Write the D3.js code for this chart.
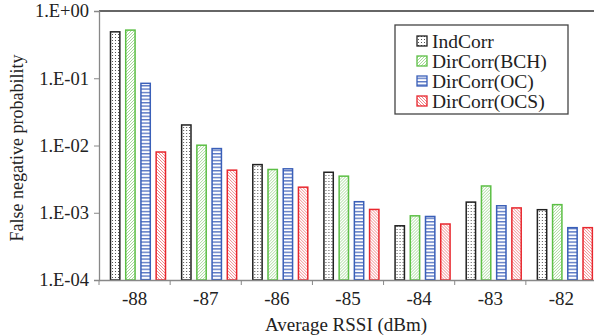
<!DOCTYPE html>
<html>
<head>
<meta charset="utf-8">
<script src="https://cdn.jsdelivr.net/npm/d3@7"></script>
<style>
  body { margin: 0; background: white; }
  text { font-family: "Liberation Serif", "Times New Roman", serif; fill: #222; }
</style>
</head>
<body>
<svg id="chart"></svg>
<script>
// categories along the x axis
const rssi = ["-88", "-87", "-86", "-85", "-84", "-83", "-82"];
const seriesNames = ["IndCorr", "DirCorr(BCH)", "DirCorr(OC)", "DirCorr(OCS)"];
// false negative probability per series
const indCorr = [0.49, 0.0202, 0.0052, 0.0040, 0.00064, 0.00144, 0.00111];
const dirCorrBCH = [0.52, 0.0101, 0.0044, 0.0035, 0.00090, 0.0025, 0.00132];
const dirCorrOC = [0.084, 0.0090, 0.0045, 0.00146, 0.00088, 0.00127, 0.00060];
const dirCorrOCS = [0.0080, 0.0043, 0.0024, 0.00112, 0.00068, 0.00118, 0.00060];
const yTicks = [1, 0.1, 0.01, 0.001, 0.0001];
const yTickLabels = ["1.E+00", "1.E-01", "1.E-02", "1.E-03", "1.E-04"];

const seriesValues = [indCorr, dirCorrBCH, dirCorrOC, dirCorrOCS];
const colors = ["#222222", "#5cbf45", "#3a5fb8", "#e8272e"];

let width = 594;
let height = 336;
let margin = {left: 99, right: -3, top: 11, bottom: 56};

let svg = d3.select("#chart")
    .attr("width", width)
    .attr("height", height);

// fill patterns for each series
let defs = svg.append("defs");

let pDot = defs.append("pattern").attr("id", "p0")
    .attr("patternUnits", "userSpaceOnUse").attr("width", 3).attr("height", 3);
pDot.append("rect").attr("width", 3).attr("height", 3).attr("fill", "white");
pDot.append("rect").attr("x", 1).attr("y", 1).attr("width", 1).attr("height", 1).attr("fill", "#555");

let pGreen = defs.append("pattern").attr("id", "p1")
    .attr("patternUnits", "userSpaceOnUse").attr("width", 3).attr("height", 3);
pGreen.append("rect").attr("width", 3).attr("height", 3).attr("fill", "white");
pGreen.append("path").attr("d", "M-1,1 L1,-1 M0,3 L3,0 M2,4 L4,2")
    .attr("stroke", "#9fd690").attr("stroke-width", 0.9);

let pBlue = defs.append("pattern").attr("id", "p2")
    .attr("patternUnits", "userSpaceOnUse").attr("width", 4).attr("height", 3.4);
pBlue.append("rect").attr("width", 4).attr("height", 3.4).attr("fill", "white");
pBlue.append("rect").attr("y", 0).attr("width", 4).attr("height", 1.4).attr("fill", "#5a78c4");

let pRed = defs.append("pattern").attr("id", "p3")
    .attr("patternUnits", "userSpaceOnUse").attr("width", 3).attr("height", 3);
pRed.append("rect").attr("width", 3).attr("height", 3).attr("fill", "white");
pRed.append("path").attr("d", "M-1,2 L1,4 M0,0 L3,3 M2,-1 L4,1")
    .attr("stroke", "#ef7b7f").attr("stroke-width", 0.9);

let x = d3.scaleBand()
    .domain(rssi)
    .range([margin.left, width - margin.right]);

let xInner = d3.scaleBand()
    .domain(seriesNames)
    .range([11, 11 + 56])
    .paddingInner(0.32)
    .paddingOuter(0);

let y = d3.scaleLog()
    .domain([1e-4, 1])
    .range([height - margin.bottom, margin.top]);

// top border line
svg.append("line")
    .attr("x1", margin.left).attr("x2", width)
    .attr("y1", margin.top).attr("y2", margin.top)
    .attr("stroke", "#333").attr("stroke-width", 1.3);

// bars
let groups = svg.selectAll("g.cat")
    .data(rssi)
    .enter()
    .append("g")
    .attr("class", "cat")
    .attr("transform", d => "translate(" + x(d) + ",0)");

groups.selectAll("rect")
    .data((d, i) => seriesNames.map((s, j) => ({s: s, j: j, v: seriesValues[j][i]})))
    .enter()
    .append("rect")
    .attr("x", d => xInner(d.s) + 0.5)
    .attr("y", d => y(d.v))
    .attr("width", xInner.bandwidth() - 1)
    .attr("height", d => y(1e-4) - y(d.v))
    .attr("fill", d => "url(#p" + d.j + ")")
    .attr("stroke", d => colors[d.j])
    .attr("stroke-width", 1.5);

// y axis
let yAxis = d3.axisLeft(y)
    .tickValues(yTicks)
    .tickFormat((d, i) => yTickLabels[i])
    .tickSize(5)
    .tickPadding(5);

let gy = svg.append("g")
    .attr("transform", "translate(" + margin.left + ",0)")
    .call(yAxis);
gy.select(".domain").attr("stroke", "#888").attr("stroke-width", 1.3);
gy.selectAll(".tick line").attr("stroke", "#888");
gy.selectAll(".tick text")
    .style("font-size", "18.5px")
    .style("font-family", "Liberation Serif, serif")
    .attr("fill", "#222");

// x axis
let xAxis = d3.axisBottom(x).tickSize(0).tickPadding(12);
let gx = svg.append("g")
    .attr("transform", "translate(0," + (height - margin.bottom) + ")")
    .call(xAxis);
gx.select(".domain").attr("stroke", "#888").attr("stroke-width", 1.3);
gx.selectAll(".tick text")
    .style("font-size", "19px")
    .style("font-family", "Liberation Serif, serif")
    .attr("fill", "#222");

// boundary ticks between categories
gx.selectAll("line.bound")
    .data(rssi)
    .enter()
    .append("line")
    .attr("class", "bound")
    .attr("x1", d => x(d)).attr("x2", d => x(d))
    .attr("y1", 0).attr("y2", 5)
    .attr("stroke", "#888");

// axis titles
svg.append("text")
    .attr("x", 346)
    .attr("y", 331)
    .attr("text-anchor", "middle")
    .style("font-size", "19px")
    .text("Average RSSI (dBm)");

svg.append("text")
    .attr("transform", "translate(23,148) rotate(-90)")
    .attr("text-anchor", "middle")
    .style("font-size", "18px")
    .text("False negative probability");

// legend
let legend = svg.append("g").attr("transform", "translate(395,25)");
legend.append("rect")
    .attr("width", 173).attr("height", 89)
    .attr("fill", "white")
    .attr("stroke", "#444").attr("stroke-width", 1.3);

let items = legend.selectAll("g.item")
    .data(seriesNames)
    .enter()
    .append("g")
    .attr("class", "item")
    .attr("transform", (d, i) => "translate(22," + (16 + i * 20) + ")");

items.append("rect")
    .attr("x", 0).attr("y", -5)
    .attr("width", 10).attr("height", 10)
    .attr("fill", (d, i) => "url(#p" + i + ")")
    .attr("stroke", (d, i) => colors[i])
    .attr("stroke-width", 1.3);

items.append("text")
    .attr("x", 15)
    .attr("y", 6.5)
    .style("font-size", "19.5px")
    .text(d => d);
</script>
</body>
</html>
